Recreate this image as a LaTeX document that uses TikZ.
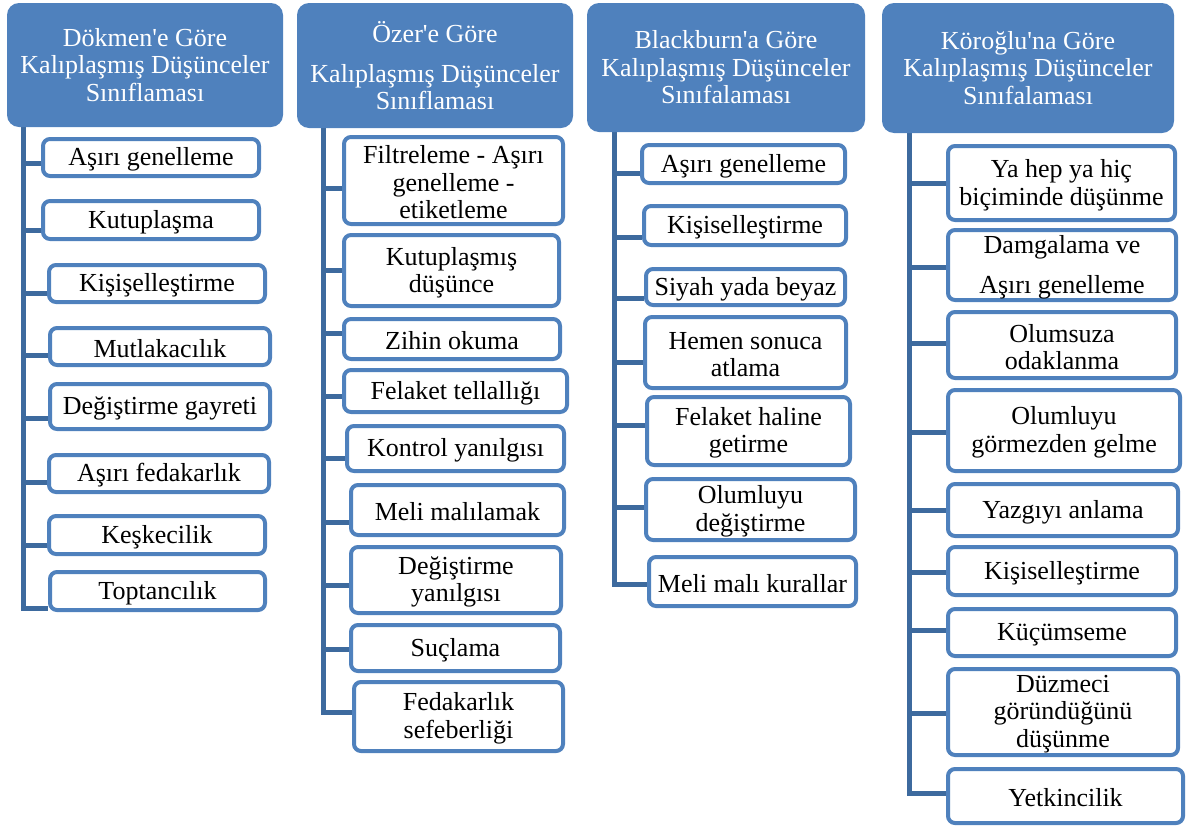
\documentclass[tikz,border=0pt]{standalone}
\usepackage{fontspec}
\setmainfont{Liberation Serif}
\usetikzlibrary{backgrounds}
\definecolor{hdblue}{HTML}{4F81BD}
\definecolor{itemblue}{HTML}{4F81BD}
\definecolor{trunkblue}{HTML}{3D6A9E}

% header box: name, x1, y1, x2, y2, text (outer edges in px)
\newcommand\mkhead[6]{%
  \node[head, minimum width={#4-#2}, minimum height={#5-#3}] (#1)
    at ({(#2+#4)/2},{(#3+#5)/2}) {#6};}
% item box: same arguments, the border is drawn inside the outer edges;
% its label sits a little below the centre of the box
\newcommand\mkitem[6]{%
  \node[item, minimum width={#4-#2-4}, minimum height={#5-#3-4}] (#1)
    at ({(#2+#4)/2},{(#3+#5)/2}) {};
  \node[itemtext] (#1t) at ([yshift=-2pt]#1.center) {#6};}
% branch from a trunk coordinate to an item, shifted vertically
\newcommand\mkbranch[3]{%
  \draw[trunk] ([yshift=#3pt]#2.west -| #1) -- ([yshift=#3pt]#2.west);}

\begin{document}
\begin{tikzpicture}[x=1pt,y=-1pt,
  head/.style={fill=hdblue, rounded corners=12pt, text=white, align=center,
    inner sep=0pt, font=\fontsize{26}{27.5}\selectfont},
  item/.style={fill=white, draw=itemblue, line width=4pt, rounded corners=7pt,
    inner sep=0pt},
  itemtext/.style={align=center, inner sep=0pt,
    font=\fontsize{26}{27.5}\selectfont},
  trunk/.style={draw=trunkblue, line width=5pt}]
\useasboundingbox (0,0) rectangle (1190,828);

% ---------- column 1 ----------
\mkhead{h1}{7}{3}{283}{127}{Dökmen\textquotesingle e Göre\\Kalıplaşmış Düşünceler\\Sınıflaması}
\coordinate (t1) at (23,0);
\mkitem{a1}{41}{137}{261}{178}{Aşırı genelleme}
\mkitem{a2}{41}{199}{261}{241}{Kutuplaşma}
\mkitem{a3}{47}{263}{267}{304}{Kişişelleştirme}
\mkitem{a4}{48}{326}{272}{367}{Mutlakacılık}
\mkitem{a5}{48}{382}{272}{431}{Değiştirme gayreti}
\mkitem{a6}{47}{453}{271}{494}{Aşırı fedakarlık}
\mkitem{a7}{47}{514}{267}{556}{Keşkecilik}
\mkitem{a8}{48}{570}{267}{612}{Toptancılık}

% ---------- column 2 ----------
\mkhead{h2}{297}{3}{573}{128}{Özer\textquotesingle e Göre\\[12.5pt]Kalıplaşmış Düşünceler\\Sınıflaması}
\coordinate (t2) at (323,0);
\mkitem{b1}{342}{135}{565}{226}{Filtreleme - Aşırı\\genelleme -\\etiketleme}
\mkitem{b2}{342}{233}{561}{308}{Kutuplaşmış\\düşünce}
\mkitem{b3}{342}{317}{562}{361}{Zihin okuma}
\mkitem{b4}{342}{368}{569}{414}{Felaket tellallığı}
\mkitem{b5}{345}{424}{566}{473}{Kontrol yanılgısı}
\mkitem{b6}{349}{483}{566}{537}{Meli malılamak}
\mkitem{b7}{349}{545}{563}{615}{Değiştirme\\yanılgısı}
\mkitem{b8}{349}{623}{562}{673}{Suçlama}
\mkitem{b9}{352}{680}{565}{753}{Fedakarlık\\sefeberliği}

% ---------- column 3 ----------
\mkhead{h3}{587}{3}{865}{132}{Blackburn\textquotesingle a Göre\\Kalıplaşmış Düşünceler\\Sınıfalaması}
\coordinate (t3) at (614,0);
\mkitem{c1}{640}{143}{847}{185}{Aşırı genelleme}
\mkitem{c2}{642}{204}{848}{247}{Kişiselleştirme}
\mkitem{c3}{644}{267}{847}{307}{Siyah yada beyaz}
\mkitem{c4}{643}{315}{848}{390}{Hemen sonuca\\atlama}
\mkitem{c5}{645}{395}{852}{467}{Felaket haline\\getirme}
\mkitem{c6}{644}{477}{857}{542}{Olumluyu\\değiştirme}
\mkitem{c7}{647}{555}{858}{608}{Meli malı kurallar}

% ---------- column 4 ----------
\mkhead{h4}{882}{3}{1174}{133}{Köroğlu\textquotesingle na Göre\\Kalıplaşmış Düşünceler\\Sınıfalaması}
\coordinate (t4) at (909,0);
\mkitem{d1}{946}{144}{1177}{222}{Ya hep ya hiç\\biçiminde düşünme}
\mkitem{d2}{946}{228}{1178}{302}{Damgalama ve\\[12.5pt]Aşırı genelleme}
\mkitem{d3}{946}{310}{1178}{380}{Olumsuza\\odaklanma}
\mkitem{d4}{946}{388}{1182}{473}{Olumluyu\\görmezden gelme}
\mkitem{d5}{946}{482}{1180}{538}{Yazgıyı anlama}
\mkitem{d6}{946}{545}{1178}{597}{Kişiselleştirme}
\mkitem{d7}{946}{607}{1178}{658}{Küçümseme}
\mkitem{d8}{946}{667}{1180}{757}{Düzmeci\\göründüğünü\\düşünme}
\mkitem{d9}{946}{767}{1185}{825}{Yetkincilik}

% ---------- trunks and branches ----------
\begin{pgfonlayer}{background}
  \draw[trunk] (t1 |- h1.south) |- ([yshift=-17pt]a8.west);
  \mkbranch{t1}{a1}{-5.5}
  \mkbranch{t1}{a2}{-10}
  \mkbranch{t1}{a3}{-9.5}
  \mkbranch{t1}{a4}{-8.5}
  \mkbranch{t1}{a5}{-11.5}
  \mkbranch{t1}{a6}{-8.5}
  \mkbranch{t1}{a7}{-10}

  \draw[trunk] (t2 |- h2.south) |- ([yshift=4.5pt]b9.west);
  \mkbranch{t2}{b1}{-7.5}
  \mkbranch{t2}{b2}{0}
  \mkbranch{t2}{b3}{6}
  \mkbranch{t2}{b4}{-5}
  \mkbranch{t2}{b5}{-9.5}
  \mkbranch{t2}{b6}{-12}
  \mkbranch{t2}{b7}{-5}
  \mkbranch{t2}{b8}{-1}

  \draw[trunk] (t3 |- h3.south) |- ([yshift=-2.5pt]c7.west);
  \mkbranch{t3}{c1}{-9}
  \mkbranch{t3}{c2}{-11.5}
  \mkbranch{t3}{c3}{-11}
  \mkbranch{t3}{c4}{-9.5}
  \mkbranch{t3}{c5}{6}
  \mkbranch{t3}{c6}{2.5}

  \draw[trunk] (t4 |- h4.south) |- ([yshift=3pt]d9.west);
  \mkbranch{t4}{d1}{0}
  \mkbranch{t4}{d2}{-2}
  \mkbranch{t4}{d3}{2}
  \mkbranch{t4}{d4}{-1.5}
  \mkbranch{t4}{d5}{0}
  \mkbranch{t4}{d6}{-1}
  \mkbranch{t4}{d7}{2.5}
  \mkbranch{t4}{d8}{-1}
\end{pgfonlayer}
\end{tikzpicture}
\end{document}
